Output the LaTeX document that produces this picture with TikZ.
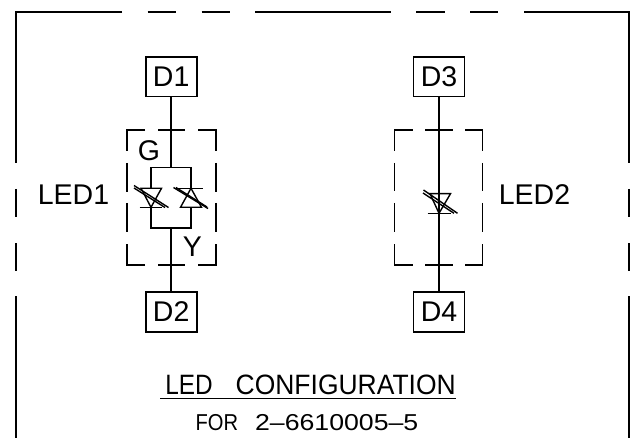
\documentclass[tikz,border=0pt]{standalone}
\usepackage{graphicx}
\usepackage{fontspec}
\setmainfont{Liberation Sans}
\tikzset{
  wire/.style={line width=1.7pt,line cap=butt,line join=miter},
  thin wire/.style={line width=1.4pt,line join=miter},
  pinbox/.style={draw,line width=1.7pt,minimum width=51pt,minimum height=39.5pt,inner sep=0pt,font=\fontsize{28.5}{28.5}\selectfont},
  lbl/.style={inner sep=0pt,font=\fontsize{28.5}{28.5}\selectfont}
}
\begin{document}
\begin{tikzpicture}[x=1pt,y=-1pt]
\useasboundingbox (0,0) rectangle (636,438);
% outer frame
\draw[wire] (122,12) -- (16,12) -- (16,163);
\draw[wire] (147.5,12) -- (176,12);
\draw[wire] (201.5,12) -- (229.5,12);
\draw[wire] (255,12) -- (391,12);
\draw[wire] (416,12) -- (444.5,12);
\draw[wire] (470,12) -- (498,12);
\draw[wire] (524,12) -- (629,12) -- (629,163);
\foreach \x in {16,629}{
  \draw[wire] (\x,189) -- (\x,217);
  \draw[wire] (\x,243) -- (\x,271);
  \draw[wire] (\x,296) -- (\x,438);
}
% pin boxes
\node[pinbox] (D1) at (171.2,76.7) {D1};
\node[pinbox] (D2) at (171.2,312) {D2};
\node[pinbox] (D3) at (439,76.7) {D3};
\node[pinbox] (D4) at (439,312) {D4};
% LED1 wiring
\coordinate (gtop) at (171.2,167.5);
\coordinate (ybot) at (171.2,228);
\draw[wire] (D1.south) -- (gtop);
\draw[wire] (ybot) -- (D2.north);
\draw[wire] (151,188) -- (151,167.5) -- (191,167.5) -- (191,188);
\draw[wire] (151,207.5) -- (151,228) -- (191,228) -- (191,207.5);
% LED1 left diode
\draw[thin wire] (141,188.3) -- (161.5,188.3) -- (151,207.3) -- cycle;
\draw[thin wire] (139.5,207.3) -- (161.5,207.3);
\draw[thin wire] (134,185.5) -- (168.5,207.5);
\draw[thin wire] (134,188) -- (165,207.5);
% LED1 right diode
\draw[thin wire] (180.5,207.3) -- (201.5,207.3) -- (191,188.3) -- cycle;
\draw[thin wire] (173.5,188.3) -- (203,188.3);
\draw[thin wire] (173.5,187.5) -- (208,208.5);
\draw[thin wire] (176,187.5) -- (207,207);
% LED1 dashed box
\draw[wire] (145,130) -- (127,130) -- (127,151);
\draw[wire] (158,130) -- (185,130);
\draw[wire] (198,130) -- (216,130) -- (216,151);
\draw[wire] (145,265) -- (127,265) -- (127,244);
\draw[wire] (158,265) -- (185,265);
\draw[wire] (198,265) -- (216,265) -- (216,244);
\foreach \x in {127,216}{
  \draw[wire] (\x,163) -- (\x,192);
  \draw[wire] (\x,203) -- (\x,232);
}
% LED2 wiring and diode
\draw[wire] (D3.south) -- (D4.north);
\draw[thin wire] (430,193.7) -- (450.5,193.7) -- (439,213.3) -- cycle;
\draw[thin wire] (427.5,213.3) -- (450.5,213.3);
\draw[thin wire] (423.5,190) -- (457.5,213.3);
\draw[thin wire] (423,193) -- (454,213.3);
% LED2 dashed box
\draw[wire] (412.5,130) -- (394.5,130) -- (394.5,151);
\draw[wire] (425,130) -- (452.5,130);
\draw[wire] (465,130) -- (482.5,130) -- (482.5,151);
\draw[wire] (412.5,265) -- (394.5,265) -- (394.5,244);
\draw[wire] (425,265) -- (452.5,265);
\draw[wire] (465,265) -- (482.5,265) -- (482.5,244);
\foreach \x in {394.5,482.5}{
  \draw[wire] (\x,163) -- (\x,191);
  \draw[wire] (\x,203) -- (\x,232);
}
% labels
\node[lbl] (G) at (149,150.5) {G};
\node[lbl] (Y) at (192.5,246.5) {Y};
\node[lbl] (L1) at (73.5,195) {LED1};
\node[lbl] (L2) at (534.5,195) {LED2};
\node[inner sep=0pt,font=\fontsize{28}{28}\selectfont] (T1) at (310.5,385.3) {\scalebox{0.87}[1]{LED}\hspace{23pt}\scalebox{0.945}[1]{CONFIGURATION}};
\draw[line width=1.5pt] (160,398.3) -- (456,398.3);
\node[inner sep=0pt,font=\fontsize{23}{23}\selectfont] (T2) at (307,422.5) {\scalebox{0.875}[1]{FOR}\hspace{17pt}\scalebox{1.16}[1]{2–6610005–5}};
\end{tikzpicture}
\end{document}
